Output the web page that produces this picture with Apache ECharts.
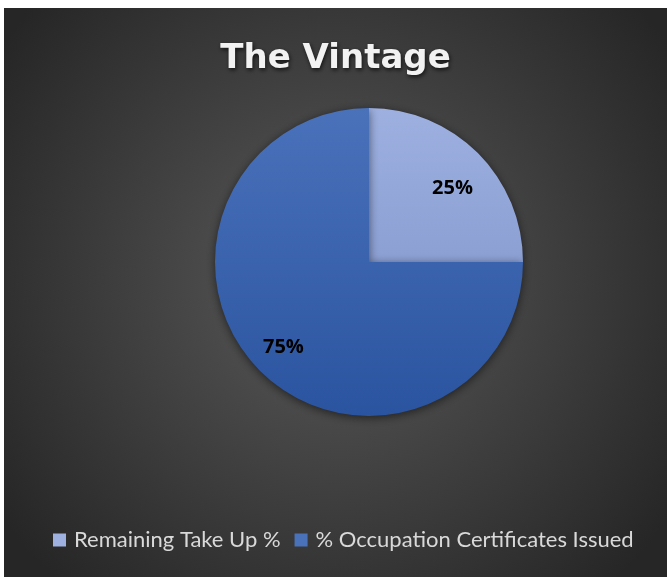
<!DOCTYPE html>
<html>
<head>
<meta charset="utf-8">
<script src="https://cdn.jsdelivr.net/npm/echarts@6/dist/echarts.min.js"></script>
<style>
  html, body { margin: 0; padding: 0; background: #ffffff; }
  #chart { position: absolute; left: 4px; top: 8px; width: 663px; height: 569px; }
</style>
</head>
<body>
<div id="chart"></div>
<script>
// Take-up split for The Vintage development
const chartTitle = 'The Vintage';
const categories = ['Remaining Take Up %', '% Occupation Certificates Issued'];
const values = [25, 75];

const sliceColors = [
  { top: '#9db0e0', bottom: '#7a8fc6' },
  { top: '#4a72bb', bottom: '#2b54a0' }
];
// small nudges for the percentage labels
const labelOffsets = [[-2, 12], [0, 0]];

const chart = echarts.init(document.getElementById('chart'));

function sliceGradient(c) {
  return {
    type: 'linear', x: 0, y: 100, x2: 0, y2: 408, global: true,
    colorStops: [{ offset: 0, color: c.top }, { offset: 1, color: c.bottom }]
  };
}

const pieData = categories.map((name, i) => ({
  name: name,
  value: values[i],
  itemStyle: { color: sliceGradient(sliceColors[i]) }
}));

chart.setOption({
  backgroundColor: {
    type: 'radial', x: 0.5, y: 0.48, r: 0.72,
    colorStops: [
      { offset: 0, color: '#5a5a5a' },
      { offset: 1, color: '#262626' }
    ]
  },
  title: {
    text: chartTitle,
    left: 'center',
    top: 29,
    textStyle: {
      color: '#f2f2f2',
      fontFamily: 'DejaVu Sans',
      fontWeight: 'bold',
      fontSize: 34,
      textShadowColor: 'rgba(0,0,0,0.7)',
      textShadowBlur: 4,
      textShadowOffsetX: 1,
      textShadowOffsetY: 2
    }
  },
  legend: {
    data: categories,
    bottom: 21,
    left: 44,
    itemWidth: 13,
    itemHeight: 13,
    itemGap: 14,
    icon: 'rect',
    textStyle: { color: '#d9d9d9', fontFamily: 'Lato', fontSize: 22, padding: [0, 0, 0, 3] }
  },
  series: [
    {
      type: 'pie',
      center: [365, 254],
      radius: 154,
      startAngle: 90,
      clockwise: true,
      silent: true,
      label: { show: false },
      labelLine: { show: false },
      itemStyle: {
        shadowBlur: 10,
        shadowColor: 'rgba(0,0,0,0.55)',
        shadowOffsetY: 2
      },
      data: pieData
    },
    {
      // transparent twin pie that places the percentage labels further out
      type: 'pie',
      center: [365, 254],
      radius: 236,
      startAngle: 90,
      clockwise: true,
      silent: true,
      legendHoverLink: false,
      itemStyle: { color: 'rgba(0,0,0,0)' },
      emphasis: { disabled: true },
      label: {
        show: true,
        position: 'inside',
        formatter: p => p.value + '%',
        color: '#000000',
        fontFamily: 'Open Sans',
        fontWeight: 'bold',
        fontSize: 20
      },
      labelLine: { show: false },
      data: categories.map((name, i) => ({
        name: name,
        value: values[i],
        label: { offset: labelOffsets[i] }
      }))
    }
  ]
});
</script>
</body>
</html>
